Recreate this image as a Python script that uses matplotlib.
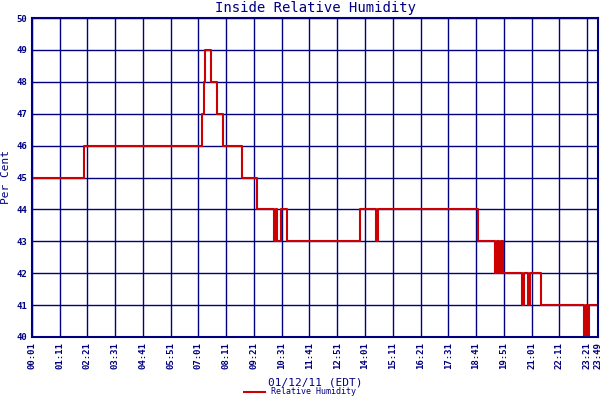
import matplotlib
matplotlib.use("Agg")
import matplotlib.pyplot as plt

times = [1, 132, 430, 434, 438, 453, 468, 483, 531, 569, 612, 617, 620, 630, 645,
         829, 870, 875, 1125, 1168, 1173, 1178, 1183, 1188, 1236, 1241, 1253, 1258,
         1284, 1392, 1397, 1400, 1405, 1429]
values = [45, 46, 47, 48, 49, 48, 47, 46, 45, 44, 43, 44, 43, 44, 43,
          44, 43, 44, 43, 42, 43, 42, 43, 42, 41, 42, 41, 42,
          41, 40, 41, 40, 41, 41]
tick_labels = ["00:01", "01:11", "02:21", "03:31", "04:41", "05:51", "07:01", "08:11",
               "09:21", "10:31", "11:41", "12:51", "14:01", "15:11", "16:21", "17:31",
               "18:41", "19:51", "21:01", "22:11", "23:21", "23:49"]
tick_pos = [1 + 70 * i for i in range(21)] + [1429]

navy = "#000080"
plt.rcParams['font.family'] = ['DejaVu Sans Mono']
fig = plt.figure(figsize=(6, 4), dpi=100)
ax = fig.add_axes([0.053, 0.1575, 0.944, 0.7975])
ax.step(times, values, where="post", color="#cc0000", lw=1.5, label="Relative Humidity")
ax.set_xlim(1, 1429)
ax.set_ylim(40, 50)
ax.set_yticks(range(40, 51))
ax.set_xticks(tick_pos)
ax.set_xticklabels(tick_labels, rotation=90, fontsize=6.5, color=navy, fontweight="bold")
ax.tick_params(axis="y", labelsize=6.5, labelcolor=navy, length=0)
ax.tick_params(axis="x", length=0)
for lab in ax.get_yticklabels():
    lab.set_fontweight("bold")
ax.grid(True, color=navy, lw=1)
ax.set_axisbelow(True)
for s in ax.spines.values():
    s.set_color(navy)
    s.set_linewidth(1.5)
ax.set_title("Inside Relative Humidity", color=navy, fontsize=10, pad=4)
ax.set_ylabel("Per Cent", color=navy, fontsize=8, labelpad=4)
ax.set_xlabel("01/12/11 (EDT)", color=navy, fontsize=8, labelpad=6)
leg = fig.legend(loc="lower center", bbox_to_anchor=(0.5, -0.01), frameon=False,
                 fontsize=6, handlelength=2.5, labelcolor=navy)
fig.savefig("out.png", dpi=100)
